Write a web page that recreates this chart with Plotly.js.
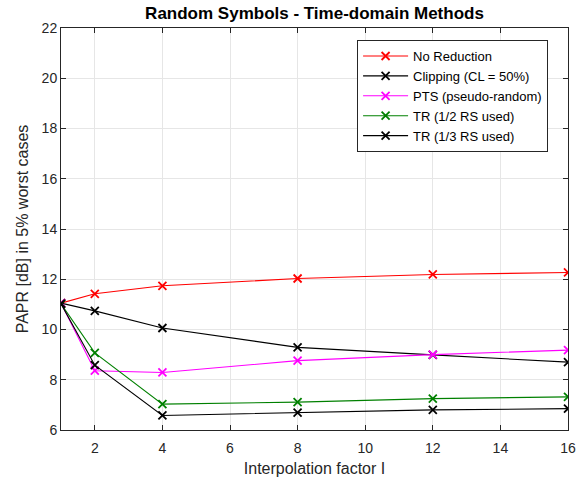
<!DOCTYPE html>
<html>
<head>
<meta charset="utf-8">
<script src="https://cdn.plot.ly/plotly-3.0.1.min.js"></script>
<style>html,body{margin:0;padding:0;background:#fff;}#chart{width:578px;height:482px;}</style>
</head>
<body>
<div id="chart"></div>
<script>
const interp = [1, 2, 4, 8, 12, 16];
const noReduction = [11.05, 11.42, 11.74, 12.03, 12.19, 12.27];
const clipping = [11.05, 10.74, 10.06, 9.29, 8.99, 8.70];
const pts = [11.05, 8.36, 8.29, 8.76, 9.00, 9.18];
const trHalf = [11.02, 9.07, 7.03, 7.11, 7.25, 7.32];
const trThird = [11.02, 8.58, 6.58, 6.69, 6.80, 6.85];
const seriesNames = ['No Reduction', 'Clipping (CL = 50%)', 'PTS (pseudo-random)', 'TR (1/2 RS used)', 'TR (1/3 RS used)'];
const seriesColors = ['#ff0000', '#000000', '#ff00ff', '#008000', '#000000'];
const seriesData = [noReduction, clipping, pts, trHalf, trThird];
const xTicks = [2, 4, 6, 8, 10, 12, 14, 16];
const yTicks = [6, 8, 10, 12, 14, 16, 18, 20, 22];

const FONT = 'Liberation Sans, Arial, Helvetica, sans-serif';

const traces = seriesData.map((ys, i) => ({
  x: interp, y: ys, name: seriesNames[i], type: 'scatter', mode: 'lines+markers',
  line: {color: seriesColors[i], width: 1.1},
  marker: {symbol: 'x-thin-open', size: 8, color: seriesColors[i], line: {color: seriesColors[i], width: 1.8}}
}));

const axisCommon = {
  showgrid: true, gridcolor: '#e6e6e6', gridwidth: 1,
  showline: true, linecolor: '#262626', linewidth: 1, mirror: 'ticks',
  ticks: 'inside', ticklen: 5, tickcolor: '#262626',
  tickfont: {family: FONT, size: 14, color: '#262626'},
  zeroline: false
};

const layout = {
  width: 578, height: 482,
  margin: {l: 61, r: 10, t: 28, b: 52},
  paper_bgcolor: '#ffffff', plot_bgcolor: '#ffffff',
  title: {text: '<b>Random Symbols - Time-domain Methods</b>', x: 0.5, xref: 'paper', xanchor: 'center', y: 0.985, yanchor: 'top',
    font: {family: FONT, size: 17, color: '#000000'}},
  xaxis: Object.assign({}, axisCommon, {
    range: [1, 16], tickvals: xTicks, ticktext: xTicks.map(String), ticklabelstandoff: 5,
    title: {text: 'Interpolation factor I', standoff: 8, font: {family: FONT, size: 16, color: '#262626'}}
  }),
  yaxis: Object.assign({}, axisCommon, {
    range: [6, 22], tickvals: yTicks, ticktext: yTicks.map(String),
    title: {text: 'PAPR [dB] in 5% worst cases', standoff: 9, font: {family: FONT, size: 16, color: '#262626'}}
  }),
  showlegend: true,
  legend: {x: 0.584, y: 0.97, xanchor: 'left', yanchor: 'top',
    bgcolor: '#ffffff', bordercolor: '#262626', borderwidth: 1,
    font: {family: FONT, size: 13, color: '#000000'},
    tracegroupgap: 0, itemwidth: 45}
};

Plotly.newPlot('chart', traces, layout, {displayModeBar: false, staticPlot: true});
</script>
</body>
</html>
